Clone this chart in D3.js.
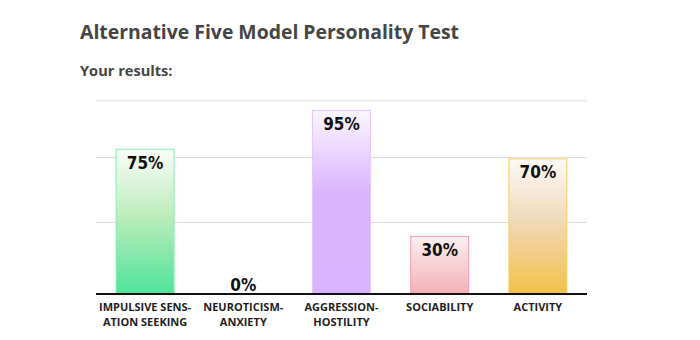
<!DOCTYPE html>
<html>
<head>
<meta charset="utf-8">
<script src="https://cdn.jsdelivr.net/npm/d3@7"></script>
<style>
  html, body { margin: 0; padding: 0; background: #fff; }
  svg { display: block; }
</style>
</head>
<body>
<svg id="chart" width="700" height="340"></svg>
<script>
// Trait names, split over two lines as printed under the axis
const categories = ["IMPULSIVE SENSATION SEEKING", "NEUROTICISM-ANXIETY", "AGGRESSION-HOSTILITY", "SOCIABILITY", "ACTIVITY"];
const labelLines = [
  ["IMPULSIVE SENS-", "ATION SEEKING"],
  ["NEUROTICISM-", "ANXIETY"],
  ["AGGRESSION-", "HOSTILITY"],
  ["SOCIABILITY"],
  ["ACTIVITY"]
];
// Score for each trait, in percent
const scores = [75, 0, 95, 30, 70];
// Horizontal guide lines (percent)
const gridValues = [37.3, 70.7, 100];
// Gradient colours per bar: [top, middle, bottom], and outline colour
const barTop = ["#f8fdf8", "#ffffff", "#fbf6ff", "#fcf1f1", "#fdfaf6"];
const barMid = ["#bfecbb", "#ffffff", "#dcb3fd", "#f7d3d5", "#f1d9bb"];
const barBottom = ["#4fe49a", "#ffffff", "#dab2fd", "#f4b0b6", "#f2c147"];
const barStroke = ["#84ecb6", "#ffffff", "#e6c6ff", "#f596b4", "#f6cc56"];

const svg = d3.select("#chart");
const margin = { left: 96, right: 113, top: 100, bottom: 46 };
const width = 700 - margin.left - margin.right;
const baseY = 294;

const x = d3.scaleBand().domain(categories).range([margin.left, margin.left + width]).paddingInner(0.4).paddingOuter(0.2);
const y = d3.scaleLinear().domain([0, 100]).range([baseY, 100.3]);

// Title block
svg.append("text").attr("x", 80).attr("y", 39)
  .attr("font-family", "'Open Sans', sans-serif").attr("font-weight", 700)
  .attr("font-size", 19.4).attr("fill", "#454545")
  .text("Alternative Five Model Personality Test");
svg.append("text").attr("x", 80).attr("y", 76)
  .attr("font-family", "'Open Sans', sans-serif").attr("font-weight", 700)
  .attr("font-size", 14.6).attr("fill", "#454545")
  .text("Your results:");

// Gradients
const defs = svg.append("defs");
categories.forEach((c, i) => {
  const g = defs.append("linearGradient").attr("id", "grad" + i)
    .attr("x1", 0).attr("y1", 0).attr("x2", 0).attr("y2", 1);
  g.append("stop").attr("offset", "0%").attr("stop-color", barTop[i]);
  g.append("stop").attr("offset", "45%").attr("stop-color", barMid[i]);
  g.append("stop").attr("offset", "100%").attr("stop-color", barBottom[i]);
});

// Grid lines
svg.append("g").selectAll("line").data(gridValues).join("line")
  .attr("x1", margin.left).attr("x2", margin.left + width)
  .attr("y1", d => Math.round(y(d)) + 0.5).attr("y2", d => Math.round(y(d)) + 0.5)
  .attr("stroke", (d, i) => i === gridValues.length - 1 ? "#ebebeb" : "#dcdcdc")
  .attr("stroke-width", (d, i) => i === gridValues.length - 1 ? 2 : 1);

// Bars (empty scores draw nothing)
const bars = scores.map((v, i) => ({ cat: categories[i], v, i })).filter(d => d.v > 0);
svg.append("g").selectAll("rect").data(bars).join("rect")
  .attr("x", d => x(d.cat) + 0.5)
  .attr("y", d => y(d.v) + 0.5)
  .attr("width", x.bandwidth() - 1)
  .attr("height", d => baseY - y(d.v) - 0.5)
  .attr("fill", d => "url(#grad" + d.i + ")")
  .attr("stroke", d => barStroke[d.i])
  .attr("stroke-width", 1);

// Value labels: inside the top of the bar, or just above the axis for empty bars
svg.append("g").selectAll("text").data(scores).join("text")
  .attr("x", (d, i) => x(categories[i]) + x.bandwidth() / 2)
  .attr("y", d => (baseY - y(d) > 25 ? y(d) + 20 : y(d) - 3))
  .attr("text-anchor", "middle")
  .attr("font-family", "'DejaVu Sans Condensed', 'DejaVu Sans', sans-serif").attr("font-weight", 700)
  .attr("font-stretch", "condensed")
  .attr("font-size", 17).attr("fill", "#111")
  .text(d => d + "%");

// Axis baseline
const xAxis = d3.axisBottom(x).tickSize(0).tickFormat("");
const axisG = svg.append("g").attr("transform", `translate(0,${baseY})`).call(xAxis);
axisG.select(".domain").attr("stroke", "#111").attr("stroke-width", 2)
  .attr("d", `M${margin.left},0H${margin.left + width}`);

// Category labels
const lab = svg.append("g");
labelLines.forEach((lines, i) => {
  const t = lab.append("text")
    .attr("x", x(categories[i]) + x.bandwidth() / 2)
    .attr("y", 311)
    .attr("text-anchor", "middle")
    .attr("font-family", "'Open Sans', sans-serif").attr("font-weight", 700)
    .attr("font-size", 11).attr("fill", "#1e1e1e");
  lines.forEach((l, k) => {
    t.append("tspan").attr("x", x(categories[i]) + x.bandwidth() / 2)
      .attr("dy", k === 0 ? 0 : 15).text(l);
  });
});
</script>
</body>
</html>
